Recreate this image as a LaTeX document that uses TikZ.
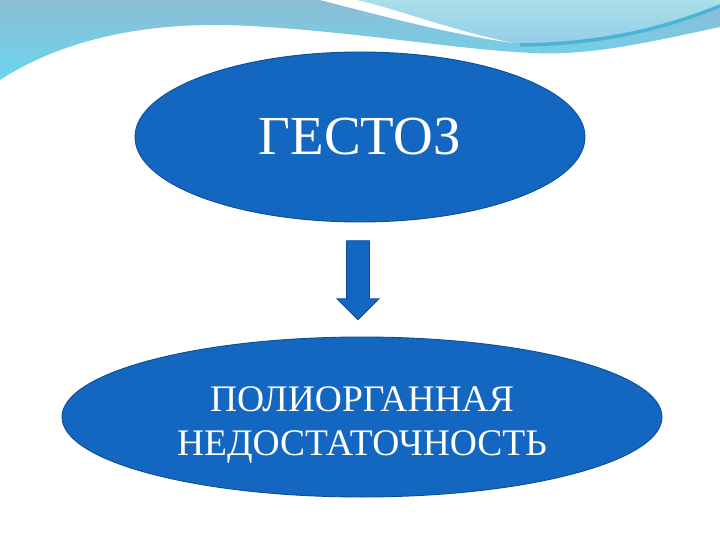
\documentclass[tikz,border=0pt]{standalone}
\usepackage{fontspec}
\setmainfont{Liberation Serif}
\usepackage{tikz}
\usetikzlibrary{shapes.geometric,shapes.arrows}
\definecolor{ovalblue}{HTML}{1367C0}
\definecolor{ovalline}{HTML}{0E4E93}
\definecolor{wavetop}{HTML}{8CBDD5}
\definecolor{wavelow}{HTML}{6BD6EE}
\definecolor{wavelight}{HTML}{A9DFEA}
\definecolor{wavelight2}{HTML}{93CDE8}
\definecolor{wavestripe}{HTML}{4DB3D6}

\begin{document}
\begin{tikzpicture}[x=1pt,y=-1pt]
				\tikzstyle{oval}=[ellipse,draw=ovalline,line width=0.9pt,fill=ovalblue,text=white,inner sep=0pt,align=center]
				\tikzstyle{blockarrow}=[single arrow,draw=ovalline,line width=0.8pt,fill=ovalblue,shape border rotate=270,inner sep=11pt,single arrow head extend=9.5pt,minimum height=79pt]
				\useasboundingbox[fill=white] (0,0) rectangle (720,540);
				% wave at the top
				\shade[top color=wavetop,bottom color=wavelow] (0,0) -- (720,0) -- (720,27) .. controls (650,42) and (590,56) .. (533,53) .. controls (460,50) and (360,32) .. (250,26) .. controls (180,22) and (80,28) .. (0,80) -- cycle;
				\shade[top color=wavelight,bottom color=wavelight2] (357,0) -- (720,0) -- (720,8) .. controls (640,35) and (580,46) .. (513,43) .. controls (450,30) and (400,10) .. (357,0);
				\fill[white] (320,0) .. controls (390,18) and (450,34) .. (513,43) .. controls (450,30) and (400,10) .. (357,0) -- cycle;
				\draw[wavestripe,line width=3.5pt] (520,45) .. controls (600,44) and (660,30) .. (720,6);
				\node[oval,minimum width=450pt,minimum height=170pt,font=\fontsize{55}{60}\selectfont](gestoz) at (360,137) {ГЕСТОЗ};
				\node[blockarrow](arr) at (358,274.5) {};
				\node[oval,minimum width=600pt,minimum height=160pt,font=\fontsize{37.5}{44}\selectfont](pon) at (362,417) {\rule{0pt}{41pt}ПОЛИОРГАННАЯ\\НЕДОСТАТОЧНОСТЬ};
			\end{tikzpicture}
\end{document}
